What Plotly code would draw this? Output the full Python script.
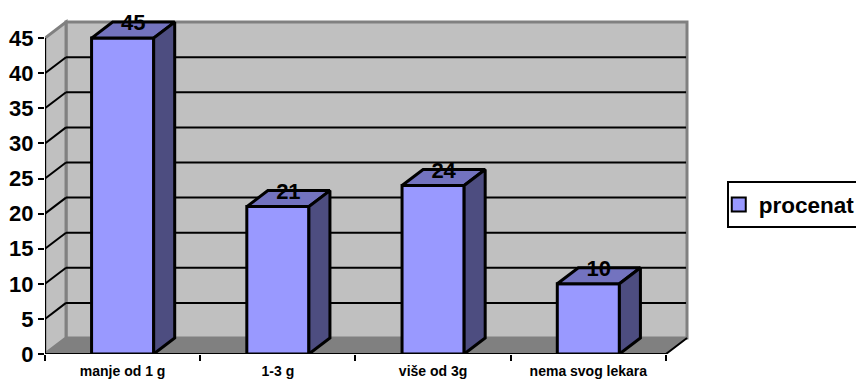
import plotly.graph_objects as go

categories = ["manje od 1 g", "1-3 g", "više od 3g", "nema svog lekara"]
values = [45, 21, 24, 10]
y_ticks = [0, 5, 10, 15, 20, 25, 30, 35, 40, 45]
series_name = "procenat"

# pseudo-3D depth, in axis units
DX = 21 / 155
DY = 16 / 7.02
BAR_W = 0.4
N = len(categories)
YMAX = y_ticks[-1]

centers = [i + 0.5 for i in range(N)]
FONT = "Liberation Sans, Arial, sans-serif"
GREY = "#808080"

fig = go.Figure()

# walls and floor
def poly(xs, ys, fill, line, width):
    path = "M" + "L".join(f"{x},{y}" for x, y in zip(xs, ys)) + "Z"
    return dict(type="path", path=path, xref="x", yref="y", layer="below",
                fillcolor=fill, line=dict(color=line, width=width))

shapes = [
    poly([DX, N + DX, N + DX, DX], [DY, DY, YMAX + DY, YMAX + DY], "#C0C0C0", GREY, 3),
    poly([0, DX, DX, 0], [0, DY, YMAX + DY, YMAX], "#C0C0C0", GREY, 3),
    poly([0, N, N + DX, DX], [0, 0, DY, DY], GREY, GREY, 1),
]
for v in y_ticks[1:-1]:
    shapes.append(dict(type="line", xref="x", yref="y", layer="below",
                       x0=0, y0=v, x1=DX, y1=v + DY, line=dict(color="black", width=2)))
    shapes.append(dict(type="line", xref="x", yref="y", layer="below",
                       x0=DX, y0=v + DY, x1=N + DX - 0.006, y1=v + DY, line=dict(color="black", width=2)))

# front faces
fig.add_trace(go.Bar(x=centers, y=values, width=BAR_W, showlegend=False, cliponaxis=False,
                     marker=dict(color="#9999FF", line=dict(color="black", width=3))))

# top and side faces
for c, v in zip(centers, values):
    l, r = c - BAR_W / 2, c + BAR_W / 2
    fig.add_trace(go.Scatter(x=[l, r, r + DX, l + DX, l], y=[v, v, v + DY, v + DY, v], mode="lines",
                             fill="toself", fillcolor="#7373BF", line=dict(color="black", width=3),
                             showlegend=False, hoverinfo="skip", cliponaxis=False))
    fig.add_trace(go.Scatter(x=[r, r + DX, r + DX, r, r], y=[0, DY, v + DY, v, 0], mode="lines",
                             fill="toself", fillcolor="#4D4D80", line=dict(color="black", width=3),
                             showlegend=False, hoverinfo="skip", cliponaxis=False))

# axis lines
fig.add_trace(go.Scatter(x=[0, 0, N, N + DX], y=[YMAX, 0, 0, DY], mode="lines",
                         line=dict(color="black", width=2), showlegend=False,
                         hoverinfo="skip", cliponaxis=False))

# data labels
fig.add_trace(go.Scatter(x=[c + DX / 2 for c in centers], y=[v + DY - 2.5 / 7.02 for v in values],
                         mode="text", text=[str(v) for v in values], textposition="middle center",
                         textfont=dict(family=FONT, size=22, color="black", weight="bold"),
                         showlegend=False, hoverinfo="skip", cliponaxis=False))

# legend entry
fig.add_trace(go.Scatter(x=[None], y=[None], mode="markers", name=series_name,
                         marker=dict(symbol="square", size=14, color="#9999FF",
                                     line=dict(color="black", width=2))))

fig.update_layout(
    width=856, height=371,
    margin=dict(l=37, r=174, t=11, b=25, autoexpand=False),
    paper_bgcolor="white", plot_bgcolor="white",
    shapes=shapes,
    barmode="overlay",
    font=dict(family=FONT, color="black"),
    xaxis=dict(range=[0, N + (21 + 3) / 155], tickmode="array", tickvals=centers, ticktext=categories,
               tickfont=dict(family=FONT, size=14, color="black", weight="bold"), ticks="", showgrid=False,
               zeroline=False, showline=False, ticklabelstandoff=7,
               minor=dict(tickmode="array", tickvals=list(range(N + 1)), ticks="outside",
                          ticklen=6, tickwidth=2, tickcolor="black", showgrid=False)),
    yaxis=dict(range=[0, 335 / 7.02], tickmode="array", tickvals=y_ticks,
               tickfont=dict(family=FONT, size=22, color="black", weight="bold"), ticks="outside", ticklen=6,
               tickwidth=2, tickcolor="black", showgrid=False, zeroline=False, showline=False),
    legend=dict(x=1.057, y=0.515, xanchor="left", yanchor="top",
                bordercolor="black", borderwidth=2, bgcolor="white", indentation=-10,
                entrywidth=125, entrywidthmode="pixels",
                font=dict(family=FONT, size=22.5, color="black", weight="bold"), itemsizing="trace"),
)

fig.write_html("out.html")
